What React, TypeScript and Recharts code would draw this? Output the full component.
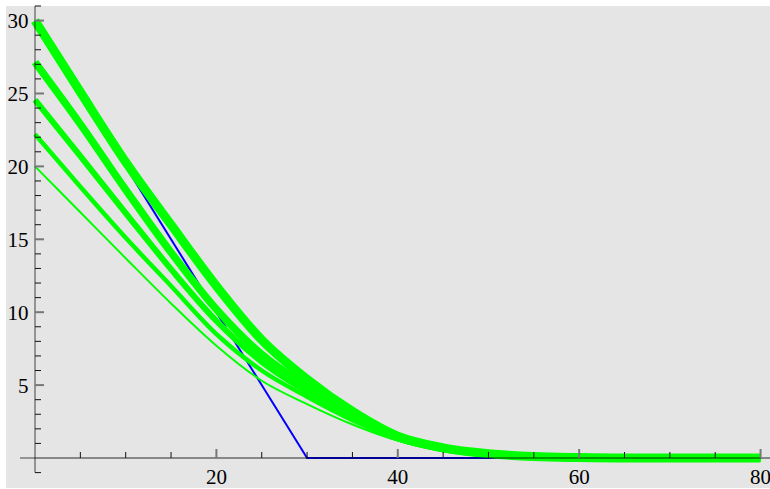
import React from "react";
import { Line, LineChart, XAxis, YAxis } from "recharts";

// stock price grid (x) and the five option-value curves
const prices: number[] = [0, 5, 10, 15, 20, 25, 30, 35, 40, 45, 50, 55, 60, 65, 70, 75, 80];
const curveA: number[] = [30, 25.1, 20.3, 16.0, 11.8, 8.1, 5.4, 3.2, 1.5, 0.7, 0.3, 0.1, 0.03, 0, 0, 0, 0];
const curveB: number[] = [27.15, 22.9, 18.4, 14.1, 10.2, 7.1, 4.9, 2.95, 1.4, 0.65, 0.28, 0.1, 0.03, 0, 0, 0, 0];
const curveC: number[] = [24.56, 20.7, 16.8, 12.95, 9.4, 6.6, 4.55, 2.8, 1.35, 0.63, 0.27, 0.1, 0.03, 0, 0, 0, 0];
const curveD: number[] = [22.2, 18.6, 15.1, 11.8, 8.5, 6.0, 4.2, 2.6, 1.3, 0.6, 0.26, 0.1, 0.03, 0, 0, 0, 0];
const curveE: number[] = [20, 16.85, 13.7, 10.6, 7.7, 5.3, 3.7, 2.3, 1.2, 0.58, 0.26, 0.1, 0.03, 0, 0, 0, 0];

// payoff max(30 - x, 0)
const payoffX: number[] = [0, 30, 80];
const payoffY: number[] = [30, 0, 0];

const xTicks: number[] = [0, 5, 10, 15, 20, 25, 30, 35, 40, 45, 50, 55, 60, 65, 70, 75, 80];
const xMajor: number[] = [20, 40, 60, 80];
const yTicks: number[] = [0, 1, 2, 3, 4, 5, 6, 7, 8, 9, 10, 11, 12, 13, 14, 15, 16, 17, 18, 19, 20, 21, 22, 23, 24, 25, 26, 27, 28, 29, 30, 31];
const yMajor: number[] = [5, 10, 15, 20, 25, 30];

const curves = [
	{ key: "e", values: curveE, width: 2 },
	{ key: "d", values: curveD, width: 4.5 },
	{ key: "c", values: curveC, width: 6 },
	{ key: "b", values: curveB, width: 7.5 },
	{ key: "a", values: curveA, width: 9 },
];

const rows = prices.map((x, i) => {
	const row: Record<string, number> = { x };
	for (const c of curves) row[c.key] = c.values[i];
	return row;
});
const payoffRows = payoffX.map((x, i) => ({ x, payoff: payoffY[i] }));

const FONT = "'Liberation Serif', 'DejaVu Serif', serif";
const axisStroke = { stroke: "#000", strokeOpacity: 0.55, strokeWidth: 1.3 };

const XTick = (props: any) => {
	const { x, y, payload } = props;
	const v = payload.value as number;
	if (v === 0) {
		// axis runs a little past the origin on the left
		return <line x1={x - 15} y1={y} x2={x} y2={y} {...axisStroke} />;
	}
	const major = xMajor.includes(v);
	return (
		<g>
			<line
				x1={x}
				y1={y}
				x2={x}
				y2={y - (major ? 9 : 6)}
				stroke={major ? "#777" : "#111"}
				strokeWidth={major ? 2 : 1}
			/>
			{major && (
				<text x={x} y={y + 26} textAnchor="middle" fontFamily={FONT} fontSize={21} fill="#000">
					{v}
				</text>
			)}
		</g>
	);
};

const YTick = (props: any) => {
	const { x, y, payload } = props;
	const v = payload.value as number;
	if (v === 0) {
		// little stub of the axis below zero, with its tick
		return (
			<g>
				<line x1={x} y1={y} x2={x} y2={y + 14.6} {...axisStroke} />
				<line x1={x} y1={y + 14.6} x2={x + 6} y2={y + 14.6} stroke="#111" strokeWidth={1} />
			</g>
		);
	}
	const major = yMajor.includes(v);
	return (
		<g>
			<line
				x1={x}
				y1={y}
				x2={x + (major ? 9 : 6)}
				y2={y}
				stroke={major ? "#777" : "#111"}
				strokeWidth={major ? 2 : 1}
			/>
			{major && (
				<text x={x - 6.5} y={y + 7.5} textAnchor="end" fontFamily={FONT} fontSize={21} fill="#000">
					{v}
				</text>
			)}
		</g>
	);
};

export default function App() {
	return (
		<div
			style={{
				position: "absolute",
				left: 0,
				top: 0,
				width: 770,
				height: 489,
				background: "#fff",
			}}
		>
			<div
				style={{
					position: "absolute",
					left: 6,
					top: 6,
					right: 0,
					bottom: 1,
					background: "#e5e5e5",
				}}
			/>
			<div style={{ position: "absolute", left: 0, top: 0 }}>
				<LineChart
					width={770}
					height={489}
					data={rows}
					margin={{ top: 6, right: 0, bottom: 0, left: 0 }}
				>
					<Line
						data={payoffRows}
						dataKey="payoff"
						type="linear"
						stroke="#0000ff"
						strokeWidth={2}
						dot={false}
						activeDot={false}
						isAnimationActive={false}
					/>
					{curves.map((c) => (
						<Line
							key={c.key}
							dataKey={c.key}
							type="monotone"
							stroke="#00ff00"
							strokeWidth={c.width}
							dot={false}
							activeDot={false}
							isAnimationActive={false}
						/>
					))}
					<XAxis
						dataKey="x"
						type="number"
						domain={[0, 81.04]}
						ticks={xTicks}
						interval={0}
						height={31}
						tickSize={0}
						tickMargin={0}
						tickLine={false}
						axisLine={axisStroke}
						tick={<XTick />}
					/>
					<YAxis
						type="number"
						domain={[0, 31]}
						ticks={yTicks}
						interval={0}
						width={35}
						tickSize={0}
						tickMargin={0}
						tickLine={false}
						axisLine={axisStroke}
						tick={<YTick />}
					/>
				</LineChart>
			</div>
		</div>
	);
}
